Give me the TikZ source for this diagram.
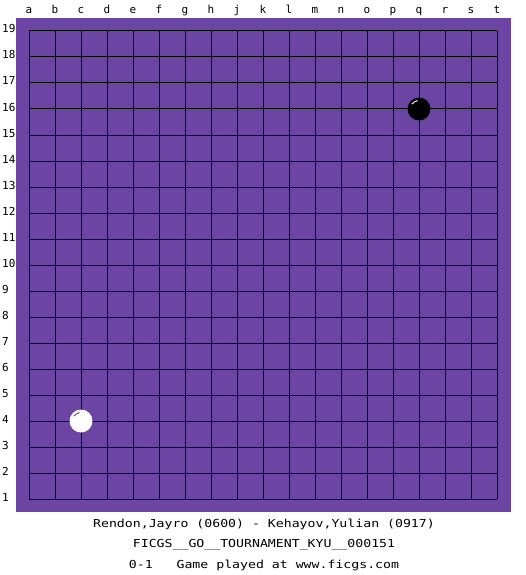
\documentclass[tikz,border=0pt]{standalone}
\usepackage{fontspec}
\newfontfamily\lblfont{DejaVu Sans Mono}
\newfontfamily\capfont[FakeStretch=1.2]{DejaVu Sans Mono}
\definecolor{boardpurple}{RGB}{108,68,164}
\begin{document}
\begin{tikzpicture}[x=1pt,y=-1pt,
  gridline/.style={black,line width=1pt},
  lbl/.style={font=\lblfont\fontsize{11}{13}\selectfont,inner sep=0pt},
  caption/.style={font=\capfont\fontsize{11}{13}\selectfont,inner sep=0pt,anchor=base},
  stone/.style={circle,minimum size=23pt,inner sep=0pt}]
\useasboundingbox[fill=white] (0,0) rectangle (525,575);
\fill[boardpurple] (16,18) rectangle (511,512);
\foreach \i in {0,...,18} {
  \draw[gridline] (29+\i*26,31) -- (29+\i*26,499);
  \draw[gridline] (29,31+\i*26) -- (497,31+\i*26);
}
\foreach \l [count=\i from 0] in {a,b,c,d,e,f,g,h,j,k,l,m,n,o,p,q,r,s,t}
  \node[lbl,anchor=base] (col\l) at (29+\i*26,14) {\l};
\foreach \r in {1,...,19}
  \node[lbl,anchor=base west] (row\r) at (2,501-\r*26+26) {\r};
\node[stone,fill=black] (bq16) at (419,109) {};
\draw[white,line width=1pt] (bq16.center) ++(215:8.5) arc[start angle=215,end angle=260,radius=8.5];
\node[stone,fill=white] (wc4) at (81,421) {};
\draw[boardpurple,line width=1pt] (wc4.center) ++(215:8.5) arc[start angle=215,end angle=260,radius=8.5];
\node[caption] (players) at (264,527) {Rendon,Jayro (0600) - Kehayov,Yulian (0917)};
\node[caption] (event) at (264,547) {FICGS\_\_GO\_\_TOURNAMENT\_KYU\_\_000151};
\node[caption] (result) at (264,568) {0-1\ \ \ Game played at www.ficgs.com};
\end{tikzpicture}
\end{document}
